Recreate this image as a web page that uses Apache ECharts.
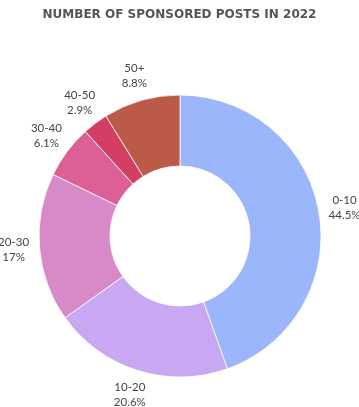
<!DOCTYPE html>
<html><head><meta charset="utf-8">
<script src="https://cdn.jsdelivr.net/npm/echarts@6/dist/echarts.min.js"></script>
<style>html,body{margin:0;padding:0;background:#fff}#c{width:359px;height:407px}</style>
</head><body><div id="c"></div>
<script>
const categories = ['0-10', '10-20', '20-30', '30-40', '40-50', '50+'];
const shares = [44.5, 20.6, 17, 6.1, 2.9, 8.8];
const colors = ['#9cb6fc', '#c8a8f2', '#d78ac7', '#dc6096', '#d33e62', '#bb5a47'];
const titleText = 'NUMBER OF SPONSORED POSTS IN 2022';

const data = categories.map((c, i) => ({ name: c, value: shares[i], itemStyle: { color: colors[i] } }));
const chart = echarts.init(document.getElementById('c'));
chart.setOption({
  animation: false,
  title: {
    text: titleText, left: 'center', top: 4,
    textStyle: { fontFamily: 'DejaVu Sans', fontWeight: 'bold', fontSize: 12, color: '#555' }
  },
  series: [
    {
      type: 'pie', center: [180, 236], radius: [70, 141], startAngle: 90, clockwise: true,
      label: { show: false }, labelLine: { show: false }, silent: true,
      itemStyle: { borderColor: '#fff', borderWidth: 0.8 },
      data: data
    },
    {
      type: 'pie', center: [180, 236], radius: [150, 178], startAngle: 90, clockwise: true,
      silent: true, itemStyle: { color: 'transparent' },
      labelLine: { show: false },
      label: {
        show: true, position: 'inside', formatter: p => p.name + '\n' + p.value + '%',
        fontFamily: 'Lato', fontSize: 11.5, color: '#444', lineHeight: 15, align: 'center'
      },
      data: categories.map((c, i) => ({ name: c, value: shares[i] }))
    }
  ]
});
</script></body></html>
